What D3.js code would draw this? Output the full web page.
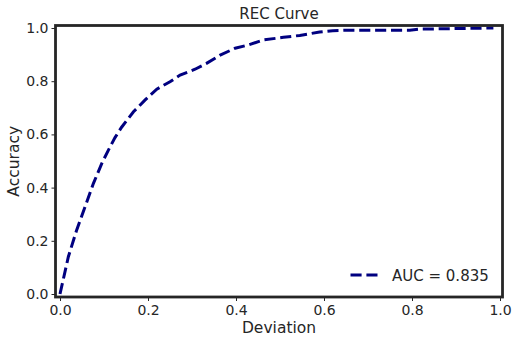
<!DOCTYPE html>
<html><head><meta charset="utf-8">
<script src="https://cdn.jsdelivr.net/npm/d3@7"></script>
<style>
html,body{margin:0;padding:0;background:#fff;}
text{font-family:"DejaVu Sans",sans-serif;fill:#262626;}
</style></head>
<body><svg id="c" width="515" height="344"></svg>
<script>
const deviation = [0, 0.019, 0.038, 0.057, 0.076, 0.095, 0.110, 0.125, 0.140, 0.167, 0.193, 0.220, 0.250, 0.273, 0.307, 0.333, 0.364, 0.398, 0.428, 0.462, 0.508, 0.545, 0.590, 0.620, 0.660, 0.760, 0.795, 0.820, 0.910, 0.985];
const accuracy  = [0, 0.140, 0.241, 0.328, 0.416, 0.491, 0.541, 0.588, 0.627, 0.685, 0.729, 0.770, 0.798, 0.823, 0.845, 0.867, 0.898, 0.924, 0.936, 0.955, 0.965, 0.972, 0.985, 0.990, 0.992, 0.992, 0.992, 0.996, 0.998, 1.0];
const xTicks = [0, 0.2, 0.4, 0.6, 0.8, 1.0];
const yTicks = [0, 0.2, 0.4, 0.6, 0.8, 1.0];
const legendLabel = "AUC = 0.835";
const titleText = "REC Curve";
const xLabel = "Deviation";
const yLabel = "Accuracy";

const svg = d3.select("#c");
const x = d3.scaleLinear().domain([0, 1]).range([60, 500]);
const y = d3.scaleLinear().domain([0, 1]).range([294, 28]);
const x0 = x(-0.0102), x1 = x(1.0057), y0 = y(-0.0113), y1 = y(1.0094);

const data = deviation.map((d, i) => [d, accuracy[i]]);
svg.append("path").datum(data)
  .attr("fill", "none").attr("stroke", "#000080").attr("stroke-width", 3)
  .attr("stroke-dasharray", "11.1,4.8")
  .attr("d", d3.line().x(d => x(d[0])).y(d => y(d[1])));

// axes
const xa = svg.append("g").attr("transform", `translate(0,${y0})`)
  .call(d3.axisBottom(x).tickValues(xTicks).tickFormat(d3.format(".1f")).tickSize(4).tickPadding(4));
const ya = svg.append("g").attr("transform", `translate(${x0},0)`)
  .call(d3.axisLeft(y).tickValues(yTicks).tickFormat(d3.format(".1f")).tickSize(4).tickPadding(3));
[xa, ya].forEach(g => {
  g.select(".domain").remove();
  g.selectAll("line").attr("stroke", "#262626").attr("stroke-width", 1);
  g.selectAll("text").attr("font-size", 14).attr("fill", "#262626").attr("font-family", "DejaVu Sans");
});

// frame
svg.append("rect").attr("x", x0).attr("y", y1).attr("width", x1 - x0).attr("height", y0 - y1)
  .attr("fill", "none").attr("stroke", "#262626").attr("stroke-width", 2.8);

svg.append("text").attr("x", (x0 + x1) / 2).attr("y", 19).attr("text-anchor", "middle")
  .attr("font-size", 15).text(titleText);
svg.append("text").attr("x", (x0 + x1) / 2).attr("y", 333).attr("text-anchor", "middle")
  .attr("font-size", 15.5).text(xLabel);
svg.append("text").attr("transform", `translate(19,${(y0 + y1) / 2}) rotate(-90)`).attr("text-anchor", "middle")
  .attr("font-size", 15.5).text(yLabel);

// legend
svg.append("line").attr("x1", 350.5).attr("x2", 377.5).attr("y1", 275).attr("y2", 275)
  .attr("stroke", "#000080").attr("stroke-width", 3).attr("stroke-dasharray", "11.1,4.8");
svg.append("text").attr("x", 392).attr("y", 280.5).attr("font-size", 15).text(legendLabel);
</script></body></html>
